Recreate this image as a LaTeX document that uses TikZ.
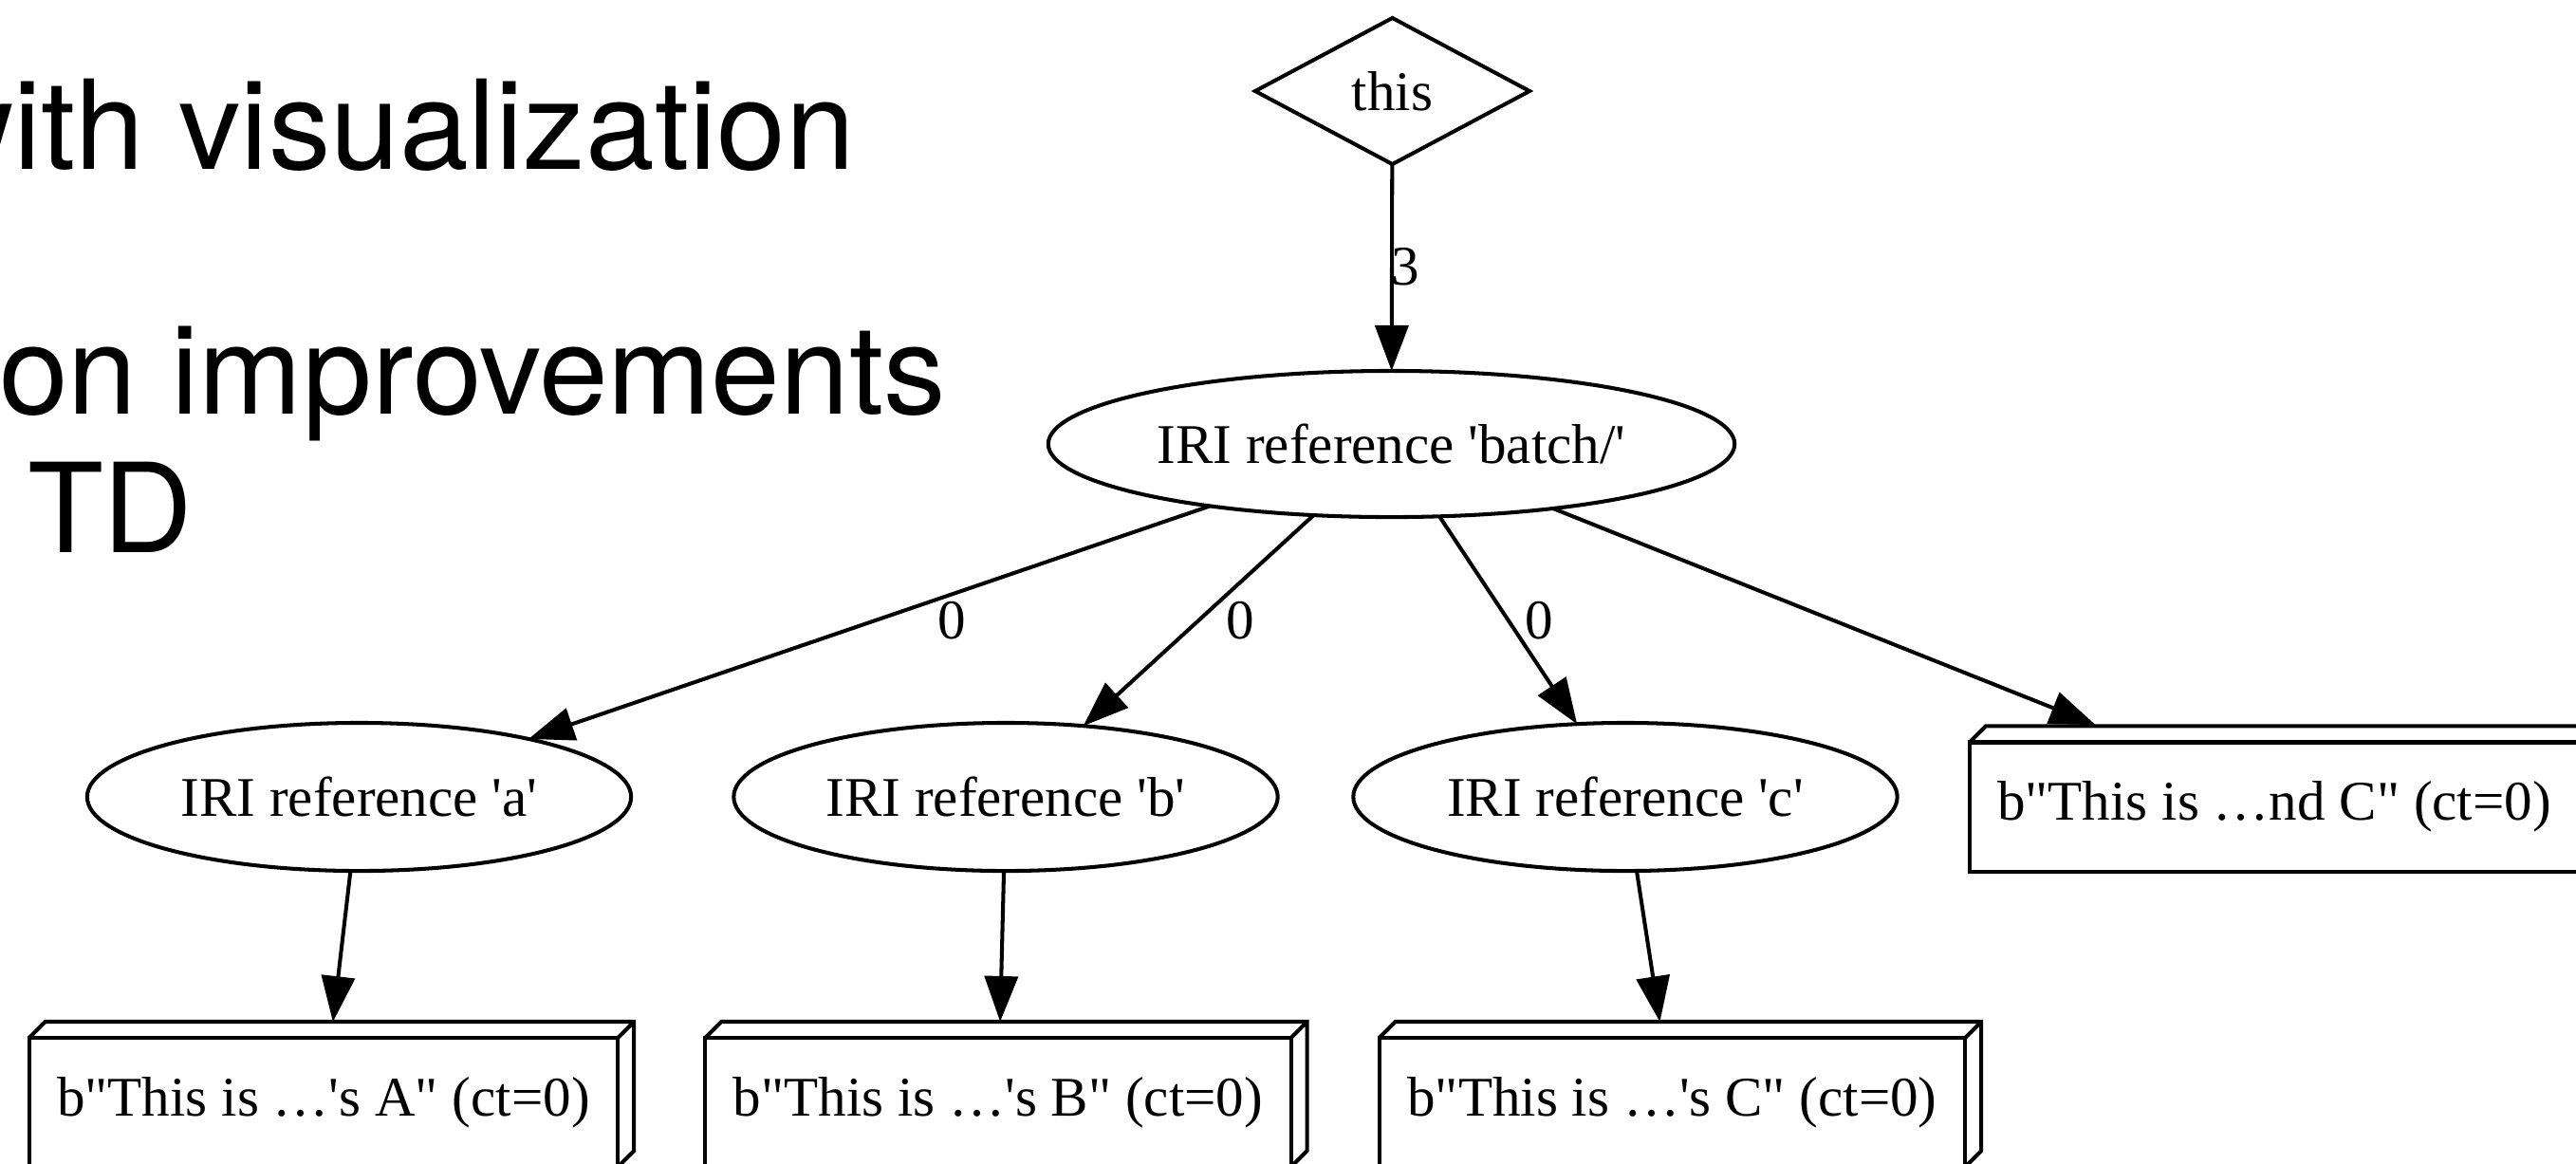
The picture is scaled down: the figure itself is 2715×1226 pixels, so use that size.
\documentclass[tikz,border=0pt]{standalone}
\usepackage{fontspec}
\setmainfont{Liberation Serif}[Ligatures=TeXOff]
\newfontfamily\slidefont{TeX Gyre Heros}
\usetikzlibrary{shapes.geometric,arrows.meta,calc}

\begin{document}
\begin{tikzpicture}[x=0.01cm,y=-0.01cm,
  every node/.style={font=\fontsize{16.8pt}{19pt}\selectfont, inner sep=0pt, outer sep=0pt},
  gv/.style={draw, line width=1.15pt},
  ell/.style={gv, ellipse, minimum width=5.73cm, minimum height=1.56cm},
  dia/.style={gv, diamond, minimum width=2.89cm, minimum height=1.54cm},
  boxfront/.style={gv, rectangle, minimum width=6.2cm, minimum height=1.36cm},
  gvline/.style={line width=1.15pt, line join=miter},
  edge/.style={line width=1.15pt, -{Triangle[length=4.8mm,width=3.5mm]}},
  to3d/.style={shorten >=#1},
  slide/.style={font=\slidefont\fontsize{37.2pt}{42pt}\selectfont, inner sep=0pt}
]
\useasboundingbox (0,0) rectangle (2715,1226);
\clip (0,0) rectangle (2715,1226);

% slide text (partly cut off)
\node[slide, anchor=base east] (t1) at (901,178) {with visualization};
\node[slide, anchor=base west] (t2) at (-1,436) {on improvements};
\node[slide, anchor=base west] (t3) at (29,582) {TD};

% graph nodes
\node[dia] (this) at (1467.5,96) {this};
\node[ell, minimum width=7.23cm, minimum height=1.54cm] (batch) at (1466.5,468) {IRI reference 'batch/'};
\node[ell] (a) at (378.5,840) {IRI reference 'a'};
\node[ell] (b) at (1060,840) {IRI reference 'b'};
\node[ell] (c) at (1713,840) {IRI reference 'c'};

\node[boxfront] (bA) at (341,1162) {b"This is …'s A" (ct=0)};
\node[boxfront, minimum width=6.17cm] (bB) at (1052,1162) {b"This is …'s B" (ct=0)};
\node[boxfront, minimum width=6.17cm] (bC) at (1762.5,1162) {b"This is …'s C" (ct=0)};
\node[boxfront, minimum width=6.42cm] (bD) at (2397,850.5) {b"This is …nd C" (ct=0)};

% 3D faces of the boxes
\foreach \n in {bA,bB,bC,bD}{
  \draw[gvline] (\n.north west) -- ++(0.17cm,0.17cm)
    -- ($(\n.north east)+(0.17cm,0.17cm)$)
    -- ($(\n.south east)+(0.17cm,0.17cm)$) -- (\n.south east)
    (\n.north east) -- ++(0.17cm,0.17cm);
}

% edges
\draw[edge] (this) -- (batch);
\draw[edge] (batch) -- (a);
\draw[edge] (batch) -- (b);
\draw[edge] (batch) -- (c);
\draw[edge, to3d=2.33cm] (batch) -- ([xshift=0.28cm]bD.center);
\draw[edge, to3d=0.17cm] (a) -- (bA);
\draw[edge, to3d=0.17cm] (b) -- (bB);
\draw[edge, to3d=0.17cm] (c) -- (bC);

% edge labels
\node (l3) at (1481,281) {3};
\node (l0a) at (1003,654) {0};
\node (l0b) at (1307,654) {0};
\node (l0c) at (1622,654) {0};
\end{tikzpicture}
\end{document}
